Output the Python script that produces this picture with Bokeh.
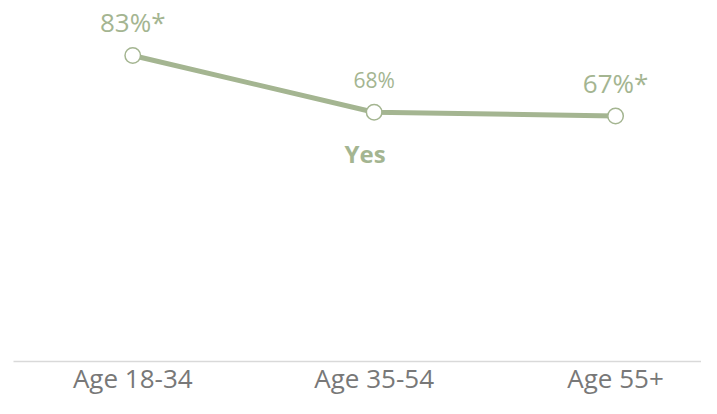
from bokeh.plotting import figure
from bokeh.models import ColumnDataSource, Range1d, FixedTicker
from bokeh.core.properties import value
from bokeh.embed import file_html
from bokeh.resources import INLINE

# data
categories = ["Age 18-34", "Age 35-54", "Age 55+"]
yes_values = [83, 68, 67]
value_labels = ["83%*", "68%", "67%*"]
label_px = [26, 21, 26]
series_name = "Yes"

GREEN = "#a4b591"
idx = list(range(len(categories)))

src = ColumnDataSource(dict(
    x=idx, y=yes_values, lab=value_labels,
    size=[f"{s}px" for s in label_px],
    off=[-(25 + 0.32 * s) for s in label_px],
))

p = figure(width=701, height=398, output_backend="svg", toolbar_location=None,
           x_range=Range1d(-0.494, 2.356), y_range=Range1d(2.05, 97.55),
           min_border_left=13, min_border_right=0, min_border_top=0, min_border_bottom=0)
p.outline_line_color = None
p.background_fill_color = "white"
p.border_fill_color = "white"
p.xgrid.visible = False
p.ygrid.visible = False
p.yaxis.visible = False

ax = p.xaxis[0]
ax.ticker = FixedTicker(ticks=idx)
ax.major_label_overrides = {i: c for i, c in zip(idx, categories)}
ax.axis_line_color = "#d9d9d9"
ax.axis_line_width = 1.5
ax.major_tick_line_color = None
ax.minor_tick_line_color = None
ax.major_label_text_font = "Open Sans"
ax.major_label_text_font_size = "26px"
ax.major_label_text_color = "#787878"
ax.major_label_standoff = -8

p.line("x", "y", source=src, line_color=GREEN, line_width=5)
p.scatter("x", "y", source=src, marker="circle", size=15.5, fill_color="white",
          line_color=GREEN, line_width=1.5)
p.text("x", "y", text="lab", source=src, text_font=value("Open Sans"),
       text_font_size="size", text_color=GREEN, text_align="center",
       text_baseline="alphabetic", y_offset="off")

name_src = ColumnDataSource(dict(x=[idx[1]], y=[yes_values[1]], t=[series_name]))
p.text("x", "y", text="t", source=name_src, text_font=value("Open Sans"),
       text_font_size="24px", text_font_style="bold", text_color=GREEN,
       text_align="center", text_baseline="alphabetic", x_offset=-9, y_offset=41)

open("out.html", "w").write(file_html(p, INLINE))
